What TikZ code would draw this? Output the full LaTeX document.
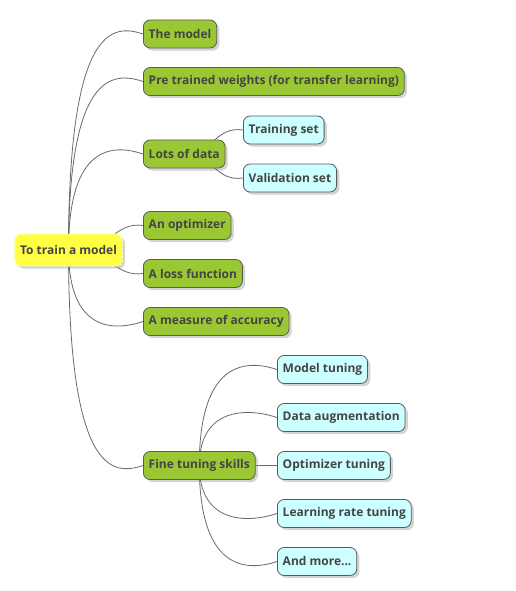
\documentclass[tikz,border=0pt]{standalone}
\usepackage{fontspec}
\setmainfont{Open Sans}
\usetikzlibrary{positioning,calc,shadows,backgrounds}
\definecolor{rootyellow}{RGB}{255,255,68}
\definecolor{rootdash}{RGB}{255,255,200}
\definecolor{branchgreen}{RGB}{154,200,52}
\definecolor{leafcyan}{RGB}{204,255,255}
\definecolor{edgegray}{RGB}{90,90,90}
\definecolor{textgray}{RGB}{68,68,68}
\definecolor{linkgray}{RGB}{105,105,105}
\newcommand{\mapdots}{...}
\tikzset{
  mapbox/.style  ={rectangle, rounded corners=5pt, draw=edgegray, line width=0.6pt,
                   font=\fontsize{9}{11}\selectfont\bfseries, text=textgray,
                   minimum height=21pt, inner xsep=4pt, anchor=west,
                   drop shadow={shadow xshift=2pt, shadow yshift=-2pt, opacity=0.35}},
  rootbox/.style ={mapbox, fill=rootyellow, draw=rootdash, dash pattern=on 1.5pt off 1.5pt,
                   line width=1.1pt, minimum height=24pt},
  greenbox/.style={mapbox, fill=branchgreen},
  cyanbox/.style ={mapbox, fill=leafcyan},
  link/.style    ={draw=linkgray, line width=0.6pt}
}
\begin{document}
\begin{tikzpicture}[x=0.75pt, y=-0.75pt]
\useasboundingbox (0,0) rectangle (515,591);
\node[rootbox] (root) at (14,250) {To train a model};
\foreach \y/\id/\txt in {34/model/The model, 81.5/weights/Pre trained weights (for transfer learning),
    154/data/Lots of data, 225.5/optimizer/An optimizer, 273.5/loss/A loss function,
    321.5/accuracy/A measure of accuracy, 465.5/fine/Fine tuning skills}
  \node[greenbox] (\id) at (143,\y) {\txt};
\foreach \y/\id/\txt in {130/training/Training set, 178/validation/Validation set}
  \node[cyanbox] (\id) at (243,\y) {\txt};
\foreach \y/\id/\txt in {369.5/modeltune/Model tuning, 417.5/augment/Data augmentation,
    465.5/opttune/Optimizer tuning, 513.5/lrtune/Learning rate tuning, 561.5/more/And more\mapdots}
  \node[cyanbox] (\id) at (277,\y) {\txt};
\begin{scope}[on background layer]
% long branches leave the parent vertically
\foreach \p/\c/\s in {root/model/-1, root/weights/-1, root/data/-1, root/accuracy/1, root/fine/1,
    fine/modeltune/-1, fine/augment/-1, fine/lrtune/1, fine/more/1}
  \draw[link] (\p.center) .. controls ($(\p.center |- \c.west)+(0,10*\s)$)
    and ($(\c.west)+(-30,10*\s)$) .. (\c.west);
% short branches leave it sideways
\foreach \p/\c/\s in {root/optimizer/-1, root/loss/1, data/training/-1, data/validation/1}
  \draw[link] (\p.center) .. controls ($(\p.east)+(-12,0)$)
    and ($(\c.west)+(-28,4*\s)$) .. (\c.west);
\draw[link] (fine) -- (opttune);
\end{scope}
\end{tikzpicture}
\end{document}
